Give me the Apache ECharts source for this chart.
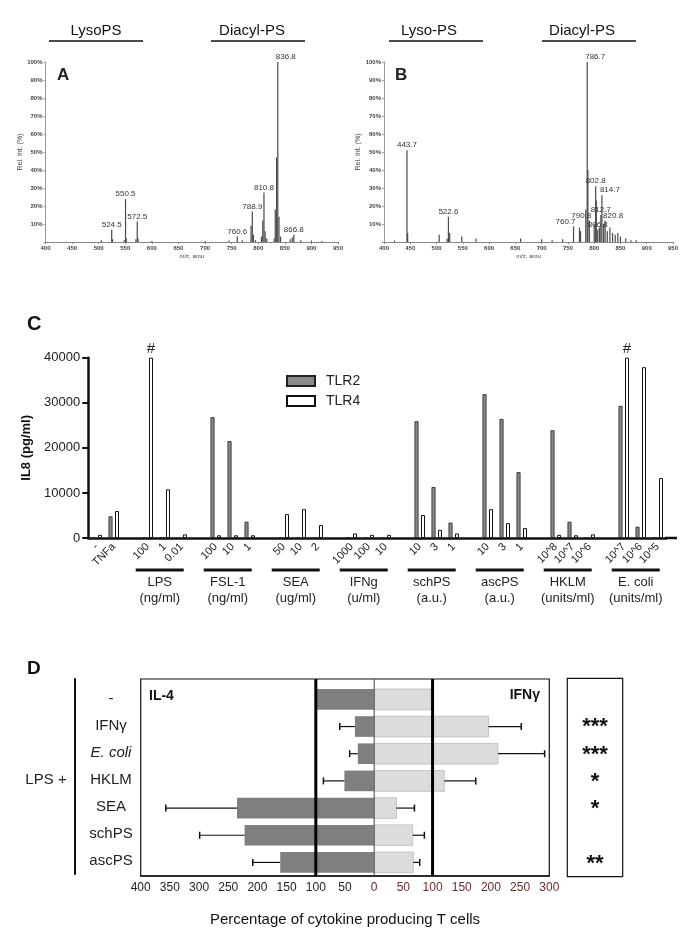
<!DOCTYPE html>
<html><head><meta charset="utf-8">
<script src="https://cdn.jsdelivr.net/npm/echarts@6/dist/echarts.min.js"></script>
<style>html,body{margin:0;padding:0;background:#fff}#c{width:685px;height:932px}</style>
</head><body><div id="c"></div>
<script>
// ---------- Panel A: mass spectrum ----------
const specA_mz  = [505, 524.5, 526, 548, 550.5, 552, 570, 572.5, 574, 600, 700, 745, 760.6, 770, 786.5, 788.9, 791, 795, 806, 808.5, 810.8, 813, 816, 830, 832, 834.5, 836.8, 839, 842, 860, 864, 866.8, 880, 900, 920];
const specA_int = [1, 6.8, 1.5, 1, 23.8, 2, 1.5, 11.4, 2, 0.6, 0.5, 0.8, 3, 1, 9, 17, 4, 1, 3, 12, 27.5, 6, 2, 2, 18, 47, 100, 14, 3, 1.5, 2.5, 4, 1, 0.8, 0.5];
const specA_labeled = [524.5, 550.5, 572.5, 760.6, 788.9, 810.8, 836.8, 866.8];
// ---------- Panel B: mass spectrum ----------
const specB_mz  = [420, 443.7, 445, 505, 520, 522.6, 525, 548, 575, 660, 700, 720, 740, 760.7, 772, 774, 784, 786.7, 788, 790.8, 800, 802.8, 804, 806.8, 810, 812.7, 814.7, 818, 820.8, 825, 830, 835, 840, 845, 850, 860, 870, 880];
const specB_int = [0.8, 51, 5, 4, 2, 14, 5, 3, 2, 2, 1.5, 1, 1.5, 8.7, 8, 6, 18, 100, 40, 12, 10, 31, 23, 7, 8, 15, 26, 10, 12, 6, 8, 5, 4, 5, 3, 2, 1, 1];
const specB_labeled = [443.7, 522.6, 760.7, 786.7, 790.8, 802.8, 806.8, 812.7, 814.7, 820.8];
const specTitlesA = ['LysoPS', 'Diacyl-PS'];
const specTitlesB = ['Lyso-PS', 'Diacyl-PS'];

// ---------- Panel C: IL8 ----------
const cCategories = ['-', 'TNFa', '', '100', '1', '0.01', '', '100', '10', '1', '', '50', '10', '2', '', '1000', '100', '10', '', '10', '3', '1', '', '10', '3', '1', '', '10^8', '10^7', '10^6', '', '10^7', '10^6', '10^5'];
const tlr2 = [0, 4800, null, 0, 0, 0, null, 26800, 21500, 3600, null, 0, 0, 0, null, 200, 0, 0, null, 25900, 11300, 3400, null, 31900, 26400, 14600, null, 23900, 3600, 0, null, 29300, 2500, 0];
const tlr4 = [700, 6000, null, 40000, 10800, 800, null, 600, 600, 600, null, 5300, 6400, 2900, null, 1000, 700, 700, null, 5100, 1800, 1000, null, 6400, 3300, 2200, null, 700, 600, 800, null, 40000, 37900, 13300];
const hashIdx = [3, 31];
const groupNames = ['LPS', 'FSL-1', 'SEA', 'IFNg', 'schPS', 'ascPS', 'HKLM', 'E. coli'];
const groupUnits = ['(ng/ml)', '(ng/ml)', '(ug/ml)', '(u/ml)', '(a.u.)', '(a.u.)', '(units/ml)', '(units/ml)'];
const groupMidIdx = [4, 8, 12, 16, 20, 24, 28, 32];

// ---------- Panel D: cytokine producing T cells ----------
const dRows = ['-', 'IFNγ', 'E. coli', 'HKLM', 'SEA', 'schPS', 'ascPS'];
const il4 = [100, 33, 28, 51, 235, 222, 161];
const il4Err = [null, 59, 42, 87, 357, 299, 208];
const ifng = [97, 196, 212, 120, 38, 66, 67];
const ifngErr = [null, 252, 292, 174, 69, 86, 78];
const stars = ['', '***', '***', '*', '*', '', '**'];
const refLines = [-100, 0, 100];

const FONT = 'Liberation Sans, Arial, sans-serif';
const chart = echarts.init(document.getElementById('c'));

const alignA = {836.8: 'left'};
const alignB = {443.7: 'center', 760.7: 'right', 786.7: 'left', 790.8: 'right', 814.7: 'left', 820.8: 'left'};
function specData(mz, ints, labeled, aligns) {
  return mz.map((m, i) => {
    const item = {value: [m, ints[i]]};
    if (labeled.indexOf(m) >= 0) {
      const al = aligns[m] || 'center';
      item.label = {show: true, position: 'top', distance: 1, fontSize: 8, color: '#333',
        align: al, offset: [al === 'left' ? -2 : (al === 'right' ? 2 : 0), 0],
        formatter: p => p.value[0].toFixed(1)};
    }
    return item;
  });
}
function specX(gi) {
  return {type: 'value', gridIndex: gi, min: 400, max: 950, interval: 50,
    axisLine: {lineStyle: {color: '#888', width: 1}}, axisTick: {show: true, length: 2, lineStyle: {color: '#888'}},
    axisLabel: {fontSize: 6, color: '#444', margin: 3, fontWeight: 'bold'}, splitLine: {show: false},
    name: 'm/z, amu', nameLocation: 'middle', nameGap: 11, nameTextStyle: {fontSize: 6, color: '#444'}};
}
function specY(gi, name) {
  return {type: 'value', gridIndex: gi, min: 0, max: 100, interval: 10,
    axisLine: {show: true, lineStyle: {color: '#999', width: 1}}, axisTick: {show: true, length: 2, lineStyle: {color: '#999'}},
    axisLabel: {fontSize: 6, color: '#444', margin: 3, fontWeight: 'bold', formatter: v => v === 0 ? '' : v + '%'},
    splitLine: {show: false},
    name: name, nameLocation: 'middle', nameGap: 20, nameRotate: 90, nameTextStyle: {fontSize: 7, color: '#444'}};
}

function hbar(fill, stroke) {
  return function (params, api) {
    const v = api.value(0), r = api.value(1);
    const a = api.coord([0, r]), b = api.coord([v, r]);
    const h = api.size([0, 0.76])[1];
    return {type: 'rect', shape: {x: Math.min(a[0], b[0]), y: a[1] - h / 2, width: Math.abs(b[0] - a[0]), height: h},
      style: {fill: fill, stroke: stroke || null, lineWidth: stroke ? 1 : 0}};
  };
}
function errItem(params, api) {
  const a = api.coord([api.value(0), api.value(2)]), b = api.coord([api.value(1), api.value(2)]);
  return {type: 'group', children: [
    {type: 'line', shape: {x1: a[0], y1: a[1], x2: b[0], y2: b[1]}, style: {stroke: '#111', lineWidth: 1.2}},
    {type: 'line', shape: {x1: b[0], y1: b[1] - 3.5, x2: b[0], y2: b[1] + 3.5}, style: {stroke: '#111', lineWidth: 1.5}}
  ]};
}
const il4Data = il4.map((v, i) => [-v, i]);
const ifngData = ifng.map((v, i) => [v, i]);
const errData = [];
il4.forEach((v, i) => { if (il4Err[i] != null) errData.push([-v, -il4Err[i], i]); });
ifng.forEach((v, i) => { if (ifngErr[i] != null) errData.push([v, ifngErr[i], i]); });

const option = {
  animation: false,
  textStyle: {fontFamily: FONT},
  legend: {left: 281, top: 369, orient: 'vertical', itemWidth: 28, itemHeight: 10, itemGap: 6,
    textStyle: {fontSize: 14, color: '#222', fontFamily: FONT, padding: [0, 0, 0, 6]}, icon: 'rect', data: ['TLR2', 'TLR4']},
  grid: [
    {left: 45.5, top: 62, width: 292.5, height: 180},
    {left: 384, top: 62, width: 289, height: 180},
    {left: 88.25, top: 357.7, width: 578, height: 180.3},
    {left: 140.7, top: 679, width: 408.6, height: 197, show: true, borderColor: '#111', borderWidth: 1.2},
    {left: 75, top: 679, width: 72, height: 195},
    {left: 567.3, top: 678.3, width: 55.4, height: 198.4, show: true, borderColor: '#111', borderWidth: 1.2}
  ],
  xAxis: [
    specX(0), specX(1),
    {type: 'category', gridIndex: 2, data: cCategories,
      axisLine: {lineStyle: {color: '#111', width: 2.5}}, axisTick: {show: false},
      axisLabel: {interval: 0, rotate: 45, fontSize: 11, color: '#222', margin: 7}},
    {type: 'value', gridIndex: 3, min: -400, max: 300, interval: 50,
      axisLine: {onZero: false, lineStyle: {color: '#111', width: 1.5}}, axisTick: {show: false}, splitLine: {show: false},
      axisLabel: {margin: 6, formatter: v => v < 0 ? '{l|' + (-v) + '}' : '{r|' + v + '}',
        rich: {l: {color: '#222', fontSize: 12, fontFamily: FONT}, r: {color: '#6e2a2a', fontSize: 12, fontFamily: FONT}}},
      name: 'Percentage of cytokine producing T cells', nameLocation: 'middle', nameGap: 36,
      nameTextStyle: {fontSize: 15, color: '#111'}},
    {type: 'value', gridIndex: 4, min: 0, max: 1, show: false},
    {type: 'value', gridIndex: 5, min: 0, max: 1, show: false}
  ],
  yAxis: [
    specY(0, 'Rel. Int. (%)'), specY(1, 'Rel. Int. (%)'),
    {type: 'value', gridIndex: 2, min: 0, max: 40000, interval: 10000,
      axisLine: {show: true, lineStyle: {color: '#111', width: 2.5}},
      axisTick: {show: true, length: 6, lineStyle: {color: '#111', width: 2}},
      axisLabel: {fontSize: 13, color: '#222', margin: 8, formatter: v => String(v)}, splitLine: {show: false},
      name: 'IL8 (pg/ml)', nameLocation: 'middle', nameGap: 46, nameRotate: 90,
      nameTextStyle: {fontSize: 13, fontWeight: 'bold', color: '#111'}},
    {type: 'value', gridIndex: 3, min: -0.75, max: 6.5, inverse: true, show: false},
    {type: 'value', gridIndex: 4, min: -0.75, max: 6.5, inverse: true,
      axisLine: {show: true, lineStyle: {color: '#111', width: 2}}, axisTick: {show: false},
      axisLabel: {show: false}, splitLine: {show: false}},
    {type: 'value', gridIndex: 5, min: -0.75, max: 6.5, inverse: true, show: false}
  ],
  series: [
    {type: 'bar', xAxisIndex: 0, yAxisIndex: 0, barWidth: 1.2, itemStyle: {color: '#4a4a4a'},
      data: specData(specA_mz, specA_int, specA_labeled, alignA)},
    {type: 'bar', xAxisIndex: 1, yAxisIndex: 1, barWidth: 1.2, itemStyle: {color: '#4a4a4a'},
      data: specData(specB_mz, specB_int, specB_labeled, alignB)},
    {type: 'bar', name: 'TLR2', xAxisIndex: 2, yAxisIndex: 2, barWidth: 4, barGap: '62%',
      itemStyle: {color: '#8a8a8a', borderColor: '#222', borderWidth: 0.8}, data: tlr2},
    {type: 'bar', name: 'TLR4', xAxisIndex: 2, yAxisIndex: 2, barWidth: 4,
      itemStyle: {color: '#ffffff', borderColor: '#111', borderWidth: 1},
      data: tlr4.map((v, i) => hashIdx.indexOf(i) >= 0
        ? {value: v, label: {show: true, position: 'top', distance: 1, formatter: '#', fontSize: 15, color: '#222'}}
        : v)},
    {type: 'custom', xAxisIndex: 3, yAxisIndex: 3, renderItem: hbar('#7f7f7f'), encode: {x: 0, y: 1}, data: il4Data, z: 2},
    {type: 'custom', xAxisIndex: 3, yAxisIndex: 3, renderItem: hbar('#dcdcdc', '#c4c4c4'), encode: {x: 0, y: 1}, data: ifngData, z: 2},
    {type: 'custom', xAxisIndex: 3, yAxisIndex: 3, renderItem: errItem, encode: {x: [0, 1], y: 2}, data: errData, z: 3},
    {type: 'custom', xAxisIndex: 3, yAxisIndex: 3, z: 4, encode: {x: 0},
      data: refLines.map(v => [v]),
      renderItem: function (params, api) {
        const v = api.value(0);
        const a = api.coord([v, -0.75]), b = api.coord([v, 6.5]);
        return {type: 'line', shape: {x1: a[0], y1: a[1], x2: b[0], y2: b[1]},
          style: {stroke: v === 0 ? '#444' : '#000', lineWidth: v === 0 ? 1 : 3}};
      }},
    {type: 'custom', xAxisIndex: 4, yAxisIndex: 4, encode: {x: 0, y: 1}, data: dRows.map((n, i) => [0.5, i]),
      renderItem: function (params, api) {
        const p = api.coord([api.value(0), api.value(1)]);
        const name = dRows[params.dataIndex];
        return {type: 'text', x: p[0], y: p[1], style: {text: name, fill: '#222', fontSize: 15, fontFamily: FONT,
          fontStyle: name === 'E. coli' ? 'italic' : 'normal', align: 'center', verticalAlign: 'middle'}};
      }},
    {type: 'custom', xAxisIndex: 5, yAxisIndex: 5, encode: {x: 0, y: 1}, data: stars.map((s, i) => [0.5, i]),
      renderItem: function (params, api) {
        const p = api.coord([api.value(0), api.value(1)]);
        return {type: 'text', x: p[0], y: p[1] + 1, style: {text: stars[params.dataIndex], fill: '#111', fontSize: 22,
          fontWeight: 'bold', fontFamily: FONT, align: 'center', verticalAlign: 'middle'}};
      }}
  ]
};
chart.setOption(option);

// static annotations
function txt(x, y, text, size, opts) {
  return Object.assign({type: 'text', x: x, y: y, style: Object.assign({text: text, fontSize: size, fontFamily: FONT, fill: '#111',
    align: 'center', verticalAlign: 'middle'}, (opts || {}))});
}
function ln(x1, y1, x2, y2, w) {
  return {type: 'line', shape: {x1: x1, y1: y1, x2: x2, y2: y2}, style: {stroke: '#111', lineWidth: w}};
}
const graphics = [
  txt(96, 31, specTitlesA[0], 15), ln(49, 41, 143, 41, 1.5),
  txt(252, 31, specTitlesA[1], 15), ln(211, 41, 305, 41, 1.5),
  txt(429, 31, specTitlesB[0], 15), ln(389, 41, 483, 41, 1.5),
  txt(582, 31, specTitlesB[1], 15), ln(542, 41, 636, 41, 1.5),
  txt(57, 75, 'A', 17, {fontWeight: 'bold', align: 'left', fill: '#222'}),
  txt(395, 75, 'B', 17, {fontWeight: 'bold', align: 'left', fill: '#222'}),
  txt(27, 324, 'C', 20, {fontWeight: 'bold', align: 'left'}),
  txt(27, 669, 'D', 19, {fontWeight: 'bold', align: 'left'}),
  txt(46, 780, 'LPS +', 15, {fill: '#222'}),
  txt(149, 696, 'IL-4', 14, {fontWeight: 'bold', align: 'left'}),
  txt(540, 695, 'IFNγ', 14, {fontWeight: 'bold', align: 'right'}),
  ln(665, 538, 677, 538, 2.5)
];
groupMidIdx.forEach((idx, g) => {
  const cx = chart.convertToPixel({xAxisIndex: 2}, idx) - 5;
  graphics.push(ln(cx - 24, 570, cx + 24, 570, 3));
  graphics.push(txt(cx, 590, groupNames[g] + '\n' + groupUnits[g], 13, {lineHeight: 16, fill: '#222'}));
});
chart.setOption({graphic: graphics});
</script></body></html>
